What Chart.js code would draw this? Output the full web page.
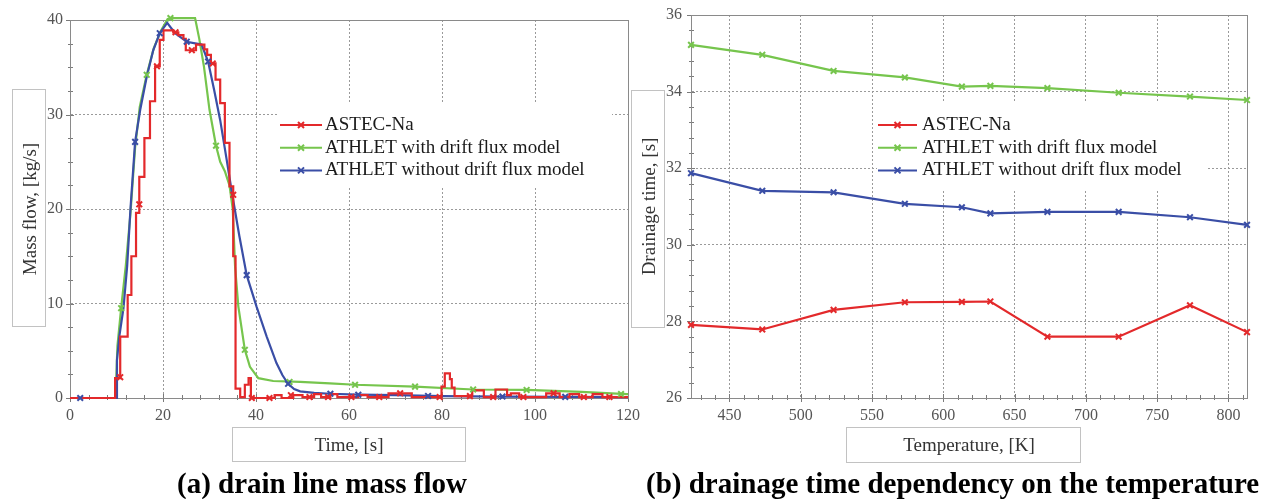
<!DOCTYPE html>
<html>
<head>
<meta charset="utf-8">
<script src="https://cdn.jsdelivr.net/npm/chart.js@4.4.1/dist/chart.umd.min.js"></script>
<style>
  html, body { margin: 0; padding: 0; background: #fff; }
  #wrap { position: relative; width: 1270px; height: 499px; overflow: hidden; background: #fff; }
  canvas { position: absolute; top: 0; }
  .cap { position: absolute; top: 469px; text-align: center; white-space: nowrap;
         font: bold 29px/29px "Liberation Serif", "Times New Roman", serif; color: #000; }
</style>
</head>
<body>
<div id="wrap">
  <canvas id="c1" width="640" height="499" style="left:0px"></canvas>
  <canvas id="c2" width="650" height="499" style="left:620px"></canvas>
  <div class="cap" style="left:122px;width:400px">(a) drain line mass flow</div>
  <div class="cap" style="left:646px;width:600px">(b) drainage time dependency on the temperature</div>
</div>
<script>
// ---------------- data: (a) drain line mass flow ----------------
const timeTicks = [0, 20, 40, 60, 80, 100, 120];
const flowTicks = [0, 10, 20, 30, 40];

const seriesLabels = ['ASTEC-Na', 'ATHLET with drift flux model', 'ATHLET without drift flux model'];

// ASTEC-Na (step curve: time of change, new value)
const astecTime = [0, 9.7, 10.8, 12.4, 13.2, 14.2, 14.9, 16.0, 17.2, 18.3, 19.3, 20.1, 22.2, 23.3, 24.4, 24.9, 27.1, 28.9, 29.5, 30.3, 31.3, 32.3, 33.3, 34.3, 35.1, 35.6, 36.6, 37.6, 38.4, 38.9,
  44.0, 45.5, 48.0, 50.0, 52.5, 54.0, 56.0, 57.5, 62.0, 64.0, 68.5, 73.5, 79.9, 80.6, 81.7, 82.1, 82.7, 86.5, 89.0, 91.5, 94.0, 94.8, 96.6, 102.4, 105.3, 107.4, 109.5, 112.4, 114.5, 120];
const astecFlow = [0, 2.1, 6.5, 10.9, 15.0, 19.6, 23.4, 27.5, 31.4, 35.1, 37.9, 38.9, 38.7, 38.4, 38.0, 36.8, 37.4, 36.9, 36.3, 35.4, 33.7, 31.2, 27.0, 22.4, 15.0, 1.0, 0.1, 1.4, 2.1, 0,
  0.3, 0, 0.3, 0.1, 0.4, 0.1, 0.4, 0.1, 0.3, 0.1, 0.5, 0.1, 1.2, 2.6, 2.0, 1.1, 0.2, 0.8, 0.1, 0.9, 0.3, 0.5, 0.1, 0.5, 0.1, 0.4, 0.1, 0.4, 0.1, 0.1];

// ATHLET with drift flux model
const driftTime = [0, 9.8, 10.2, 11.0, 12.0, 13.0, 14.0, 15.0, 16.5, 18.0, 19.5, 21.0, 22.0, 26.9, 27.8, 28.8, 30.0, 31.4, 32.3, 33.3, 34.3, 35.0, 35.5, 36.2, 37.6, 38.7, 40.5, 43.7, 49.5, 55.9, 61.3, 74.2, 86.7, 98.2, 110, 119.7, 120];
const driftFlow = [0, 0, 5.5, 9.5, 14.0, 19.5, 26.5, 30.8, 34.2, 37.0, 38.8, 40.1, 40.2, 40.2, 38.0, 35.1, 30.5, 26.7, 25.0, 24.0, 22.5, 20.0, 13.9, 9.7, 5.1, 3.3, 2.1, 1.8, 1.7, 1.55, 1.4, 1.2, 0.9, 0.85, 0.65, 0.4, 0.4];

// ATHLET without drift flux model
const noDriftTime = [0, 9.9, 10.1, 10.6, 11.5, 12.3, 13.0, 14.0, 15.1, 16.5, 17.9, 19.3, 20.9, 22.6, 25.1, 28.3, 29.7, 31.0, 32.3, 33.7, 34.8, 36.4, 38.0, 40.1, 42.3, 44.4, 45.7, 46.9, 48.2, 49.5, 52.5, 55.9, 62, 70, 80, 93, 106.5, 120];
const noDriftFlow = [0, 0, 4.0, 6.5, 9.5, 14.0, 20.0, 27.1, 30.5, 34.0, 36.8, 38.6, 39.7, 38.6, 37.7, 37.4, 35.6, 32.6, 29.4, 25.2, 21.8, 17.2, 13.0, 9.7, 6.5, 3.7, 2.4, 1.5, 0.95, 0.7, 0.55, 0.45, 0.35, 0.3, 0.2, 0.15, 0.12, 0.1];

// marker positions
const astecMarkTime = [10.8, 14.9, 18.7, 22.7, 26.2, 30.7, 35.1, 39.1, 42.9, 47.5, 51.5, 55.5, 60.5, 66.5, 71, 79.5, 86, 91, 97.5, 104, 110.5, 116];
const astecMarkFlow = [2.2, 20.5, 35.1, 38.7, 36.8, 35.4, 21.5, 0, 0, 0.3, 0.1, 0.1, 0.1, 0.1, 0.5, 0.1, 0.2, 0.1, 0.1, 0.5, 0.1, 0.1];
const driftMarkTime = [11.0, 16.5, 21.6, 31.4, 37.6, 47.2, 61.3, 74.2, 86.7, 98.2, 118.5];
const driftMarkFlow = [9.5, 34.2, 40.2, 26.7, 5.1, 1.7, 1.4, 1.2, 0.9, 0.85, 0.42];
const noDriftMarkTime = [2.2, 14.0, 19.3, 25.1, 29.7, 38.0, 46.9, 56, 62, 77, 93, 106.5];
const noDriftMarkFlow = [0, 27.1, 38.6, 37.7, 35.6, 13.0, 1.5, 0.45, 0.35, 0.22, 0.15, 0.12];

// ---------------- data: (b) drainage time vs temperature ----------------
const tempTicks = [450, 500, 550, 600, 650, 700, 750, 800];
const drainTicks = [26, 28, 30, 32, 34, 36];
const temperatures = [423, 473, 523, 573, 613, 633, 673, 723, 773, 813];
const astecDrain = [27.91, 27.79, 28.30, 28.50, 28.51, 28.52, 27.60, 27.60, 28.42, 27.72];
const driftDrain = [35.22, 34.96, 34.54, 34.37, 34.13, 34.15, 34.09, 33.97, 33.87, 33.78];
const noDriftDrain = [31.87, 31.41, 31.37, 31.07, 30.98, 30.82, 30.86, 30.86, 30.72, 30.52];

// ---------------- styling ----------------
const SERIF = '"Liberation Serif", "Times New Roman", serif';
const seriesColors = ['#e3292b', '#76c54d', '#3a4ea6'];

function zip(xs, ys) { return xs.map((x, i) => ({ x: x, y: ys[i] })); }

function lineDs(label, xs, ys, color, order, extra) {
  return Object.assign({
    label: label, data: zip(xs, ys), borderColor: color, backgroundColor: color,
    borderWidth: 2.2, pointRadius: 0, pointHoverRadius: 0, showLine: true, fill: false,
    tension: 0, clip: false, order: order
  }, extra || {});
}
function markDs(xs, ys, color) {
  return {
    label: '', data: zip(xs, ys), showLine: false, pointStyle: 'crossRot', pointRadius: 4,
    pointBorderWidth: 2, borderColor: color, backgroundColor: color, clip: false, order: -1
  };
}

function minorLoop(min, max, step, fn) {
  for (let k = Math.ceil(min / step - 1e-9); k * step <= max + 1e-9; k++) fn(k * step);
}

const decor = {
  id: 'decor',
  beforeDraw(chart, args, o) {
    const ctx = chart.ctx;
    ctx.save();
    ctx.strokeStyle = '#c2c2c2';
    ctx.lineWidth = 1;
    o.boxes.forEach(b => ctx.strokeRect(b[0] + 0.5, b[1] + 0.5, b[2], b[3]));
    ctx.restore();
  },
  beforeDatasetsDraw(chart, args, o) {
    const ctx = chart.ctx, a = chart.chartArea, x = chart.scales.x, y = chart.scales.y;
    ctx.save();
    ctx.strokeStyle = '#7a7a7a';
    ctx.lineWidth = 1;
    ctx.beginPath();
    minorLoop(x.min, x.max, o.xMinor, v => {
      const p = Math.round(x.getPixelForValue(v)) + 0.5;
      ctx.moveTo(p, a.bottom + 2); ctx.lineTo(p, a.bottom - 3);
    });
    minorLoop(y.min, y.max, o.yMinor, v => {
      const p = Math.round(y.getPixelForValue(v)) + 0.5;
      ctx.moveTo(a.left - 2, p); ctx.lineTo(a.left + 3, p);
    });
    x.ticks.forEach(t => {
      const p = Math.round(x.getPixelForValue(t.value)) + 0.5;
      ctx.moveTo(p, a.bottom + 4); ctx.lineTo(p, a.bottom - 4);
    });
    y.ticks.forEach(t => {
      const p = Math.round(y.getPixelForValue(t.value)) + 0.5;
      ctx.moveTo(a.left - 4, p); ctx.lineTo(a.left + 4, p);
    });
    ctx.stroke();
    ctx.strokeStyle = '#8a8a8a';
    ctx.strokeRect(Math.round(a.left) + 0.5, Math.round(a.top) + 0.5,
                   Math.round(a.right - a.left), Math.round(a.bottom - a.top));
    ctx.restore();
  },
  afterDatasetsDraw(chart, args, o) {
    const L = o.legend, ctx = chart.ctx;
    ctx.save();
    ctx.fillStyle = '#fff';
    ctx.fillRect(L.box[0], L.box[1], L.box[2], L.box[3]);
    seriesLabels.forEach((lab, i) => {
      const yy = L.y0 + i * L.dy, col = seriesColors[i];
      ctx.strokeStyle = col;
      ctx.lineWidth = 2;
      ctx.beginPath(); ctx.moveTo(L.x0, yy); ctx.lineTo(L.x1, yy); ctx.stroke();
      const mx = (L.x0 + L.x1) / 2, r = 3;
      ctx.beginPath();
      ctx.moveTo(mx - r, yy - r); ctx.lineTo(mx + r, yy + r);
      ctx.moveTo(mx + r, yy - r); ctx.lineTo(mx - r, yy + r);
      ctx.stroke();
      ctx.fillStyle = '#1a1a1a';
      ctx.font = '19px ' + SERIF;
      ctx.textBaseline = 'middle';
      ctx.textAlign = 'left';
      ctx.fillText(lab, L.tx, yy);
    });
    ctx.restore();
  }
};

function axisX(ticksArr, min, max, title) {
  return {
    type: 'linear', min: min, max: max,
    afterBuildTicks: s => { s.ticks = ticksArr.map(v => ({ value: v })); },
    afterFit: s => { s.height = 101; s.paddingLeft = 0; s.paddingRight = 0; },
    grid: { color: '#9a9a9a', lineWidth: 1, drawTicks: false },
    border: { display: true, color: '#8a8a8a', dash: [2, 2] },
    ticks: { padding: 8, color: '#555', font: { family: SERIF, size: 16 }, maxRotation: 0, autoSkip: false },
    title: { display: true, text: title, color: '#333', font: { family: SERIF, size: 19 }, padding: { top: 0, bottom: 42 } }
  };
}
function axisY(ticksArr, min, max, title, width, tickPad, titlePad) {
  return {
    type: 'linear', min: min, max: max,
    afterBuildTicks: s => { s.ticks = ticksArr.map(v => ({ value: v })); },
    afterFit: s => { s.width = width; s.paddingTop = 0; s.paddingBottom = 0; },
    grid: { color: '#9a9a9a', lineWidth: 1, drawTicks: false },
    border: { display: true, color: '#8a8a8a', dash: [2, 2] },
    ticks: { padding: tickPad, color: '#555', font: { family: SERIF, size: 16 }, autoSkip: false },
    title: { display: true, text: title, color: '#333', font: { family: SERIF, size: 19 }, padding: { top: titlePad, bottom: 0 } }
  };
}

const common = {
  responsive: false, animation: false, devicePixelRatio: 1,
  events: []
};

// ---------------- chart (a) ----------------
new Chart(document.getElementById('c1'), {
  type: 'scatter',
  data: {
    datasets: [
      lineDs(seriesLabels[0], astecTime, astecFlow, seriesColors[0], 0, { stepped: 'before' }),
      lineDs(seriesLabels[2], noDriftTime, noDriftFlow, seriesColors[2], 1),
      lineDs(seriesLabels[1], driftTime, driftFlow, seriesColors[1], 2),
      markDs(astecMarkTime, astecMarkFlow, seriesColors[0]),
      markDs(noDriftMarkTime, noDriftMarkFlow, seriesColors[2]),
      markDs(driftMarkTime, driftMarkFlow, seriesColors[1])
    ]
  },
  options: Object.assign({}, common, {
    layout: { padding: { top: 20, right: 12, left: 0, bottom: 0 } },
    scales: {
      x: axisX(timeTicks, 0, 120, 'Time, [s]'),
      y: axisY(flowTicks, 0, 40, 'Mass flow, [kg/s]', 70, 7, 19.6)
    },
    plugins: {
      legend: { display: false }, tooltip: { enabled: false },
      decor: {
        xMinor: 4, yMinor: 2.5,
        boxes: [[12, 89, 33, 237], [232, 427, 233, 34]],
        legend: { box: [278, 103, 334, 85], x0: 280, x1: 322, tx: 325, y0: 125, dy: 22.7 }
      }
    }
  }),
  plugins: [decor]
});

// ---------------- chart (b) ----------------
const ptStyle = { pointStyle: 'crossRot', pointRadius: 4, pointBorderWidth: 2 };
new Chart(document.getElementById('c2'), {
  type: 'scatter',
  data: {
    datasets: [
      lineDs(seriesLabels[0], temperatures, astecDrain, seriesColors[0], 0, ptStyle),
      lineDs(seriesLabels[1], temperatures, driftDrain, seriesColors[1], 1, ptStyle),
      lineDs(seriesLabels[2], temperatures, noDriftDrain, seriesColors[2], 2, ptStyle)
    ]
  },
  options: Object.assign({}, common, {
    layout: { padding: { top: 15, right: 23, left: 0, bottom: 0 } },
    scales: {
      x: axisX(tempTicks, 423, 813, 'Temperature, [K]'),
      y: axisY(drainTicks, 26, 36, 'Drainage time, [s]', 71, 9, 18.6)
    },
    plugins: {
      legend: { display: false }, tooltip: { enabled: false },
      decor: {
        xMinor: 10, yMinor: 0.4,
        boxes: [[11, 90, 33, 237], [226, 427, 234, 35]],
        legend: { box: [257, 103, 331, 87], x0: 258, x1: 297, tx: 302, y0: 125, dy: 22.7 }
      }
    }
  }),
  plugins: [decor]
});
</script>
</body>
</html>
